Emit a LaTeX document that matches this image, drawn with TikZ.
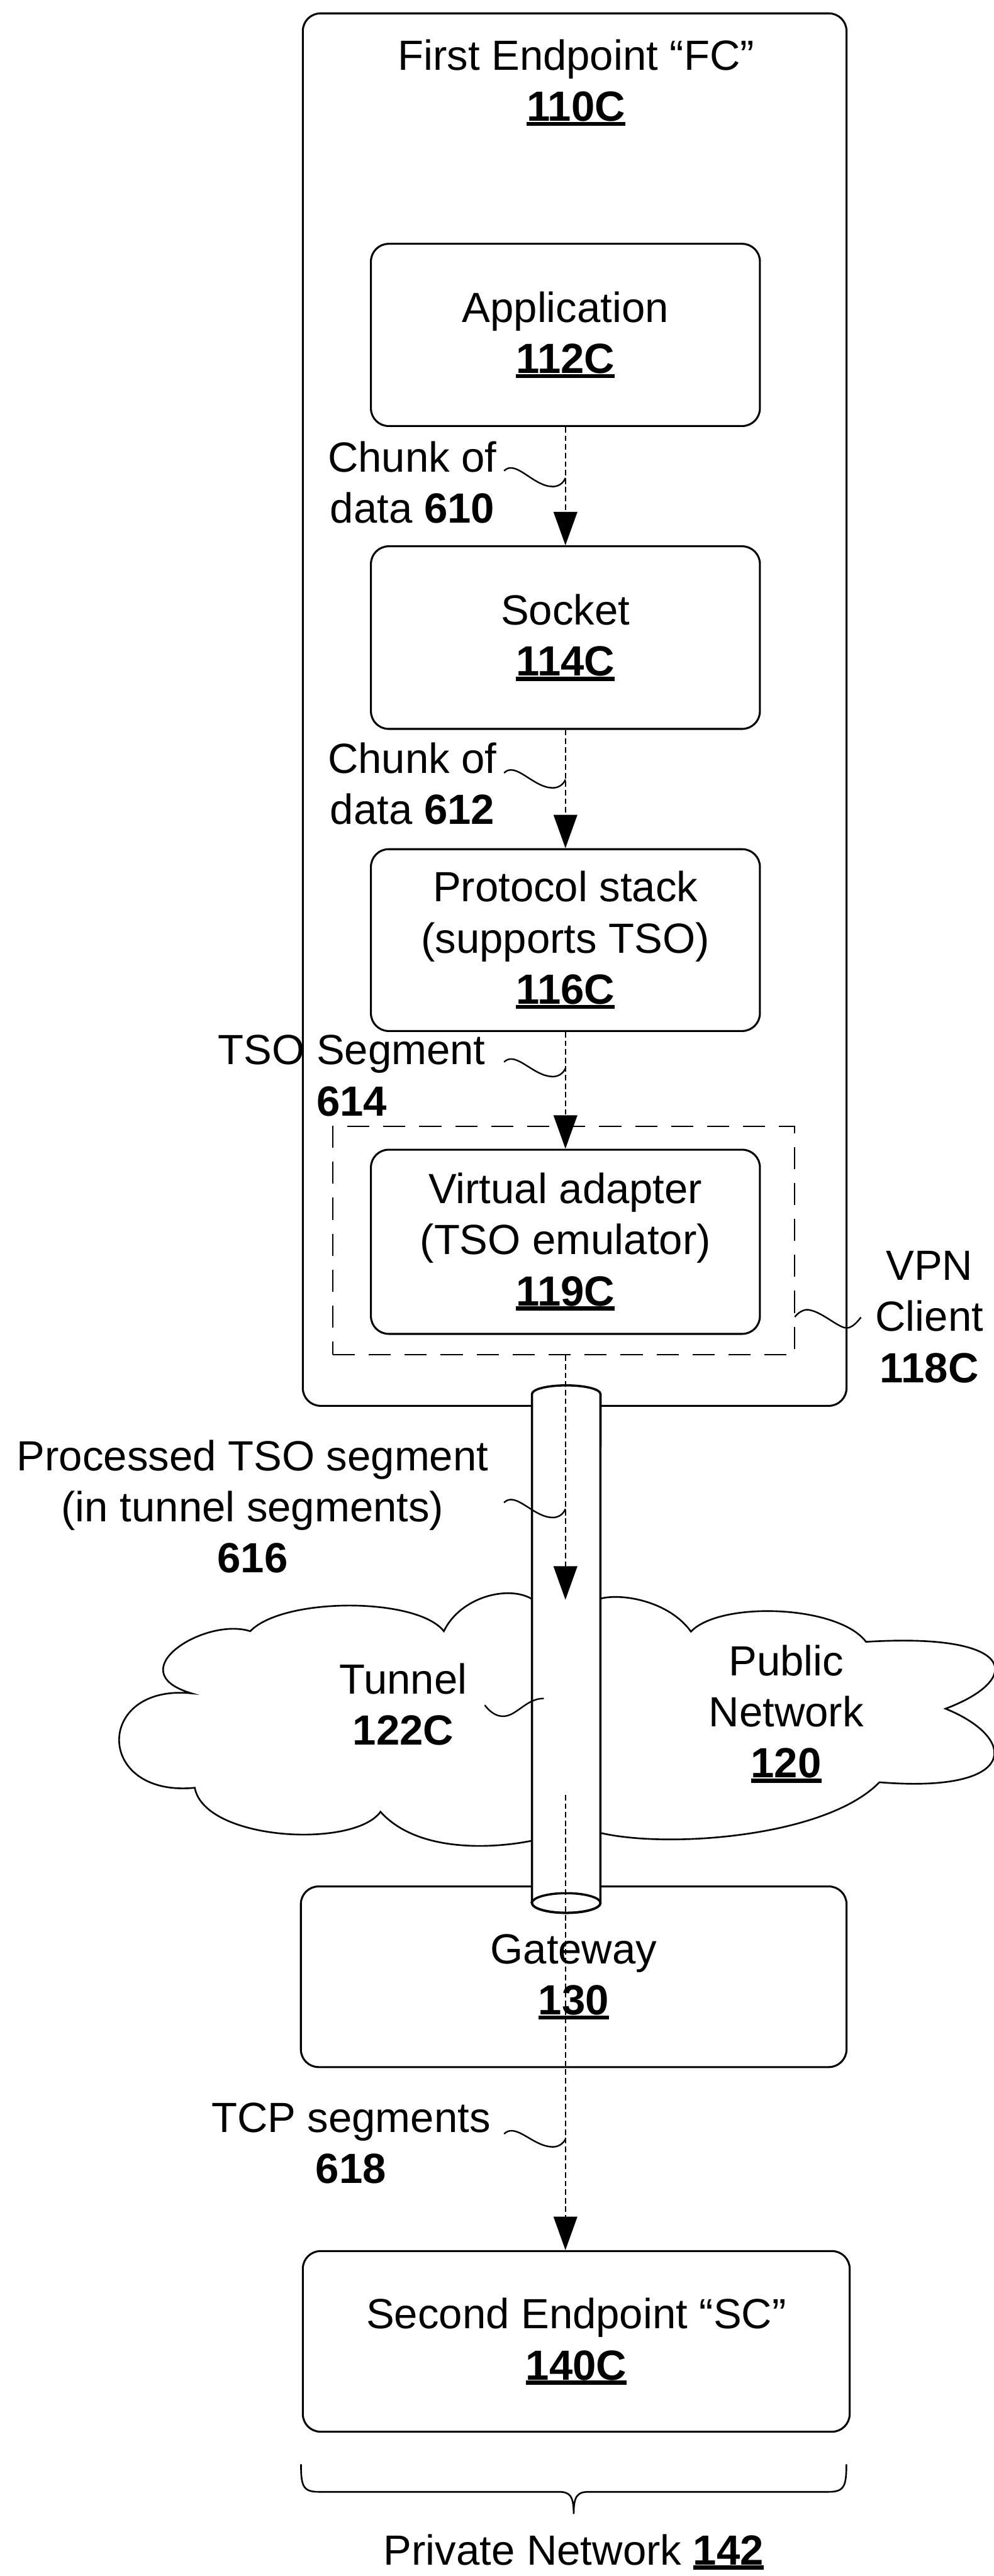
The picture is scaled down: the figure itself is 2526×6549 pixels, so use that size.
\documentclass[tikz,border=0pt]{standalone}
\usepackage{fontspec}
\setmainfont{Liberation Sans}
\usetikzlibrary{arrows.meta}

\newcommand{\figfont}{\fontsize{30.5}{37}\selectfont}
\newcommand{\refnum}[1]{\textbf{#1}}
\newsavebox{\refbox}
\newcommand{\urefnum}[1]{\sbox{\refbox}{\textbf{#1}}\rlap{\rule[-3.5pt]{\wd\refbox}{3pt}}\usebox{\refbox}}

\tikzset{
  box/.style={draw, line width=1.4pt, rounded corners=0.45cm, align=center,
    inner sep=0pt, font=\figfont},
  lbl/.style={align=center, inner sep=0pt, font=\figfont},
  flow/.style={line width=1.1pt, dash pattern=on 4pt off 2.2pt,
    -{Triangle[length=0.85cm, width=0.6cm]}},
  leader/.style={line width=1.1pt},
  vpnbox/.style={draw, line width=1.1pt, dash pattern=on 16pt off 10pt,
    inner sep=0pt},
}

\begin{document}
\begin{tikzpicture}[x=0.01cm, y=-0.01cm]
\path[use as bounding box, fill=white] (0,0) rectangle (2526,6549);

% first endpoint and its stack
\node[box, minimum width=13.81cm, minimum height=35.38cm] (fc) at (1460.5,1804) {};
\node[lbl] (fctitle) at (1464,210) {First Endpoint “FC”\\\urefnum{110C}};

\node[box, minimum width=9.88cm, minimum height=4.63cm] (app) at (1437,851.5)
  {Application\\\urefnum{112C}};
\node[box, minimum width=9.88cm, minimum height=4.64cm] (sock) at (1437,1621)
  {Socket\\\urefnum{114C}};
\node[box, minimum width=9.88cm, minimum height=4.62cm] (proto) at (1437,2390)
  {Protocol stack\\(supports TSO)\\\urefnum{116C}};
\node[vpnbox, minimum width=11.73cm, minimum height=5.80cm] (vpn) at (1432.5,3154) {};
\node[box, minimum width=9.88cm, minimum height=4.68cm] (vadapt) at (1437,3157)
  {Virtual adapter\\(TSO emulator)\\\urefnum{119C}};

% public network cloud
\path[draw, fill=white, line width=1.2pt]
  (1350,4064)
  .. controls (1290,4030) and (1170,4060) .. (1128,4147)
  .. controls (1060,4060) and (720,4060) .. (636,4147)
  .. controls (520,4110) and (300,4250) .. (487,4305)
  .. controls (240,4280) and (240,4570) .. (495,4545)
  .. controls (520,4680) and (900,4700) .. (967,4606)
  .. controls (1060,4710) and (1250,4700) .. (1350,4680)
  -- (1527,4660)
  .. controls (1700,4700) and (2100,4670) .. (2235,4531)
  .. controls (2590,4560) and (2590,4420) .. (2403,4344)
  .. controls (2600,4270) and (2590,4150) .. (2201,4174)
  .. controls (2130,4080) and (1830,4070) .. (1756,4148)
  .. controls (1700,4070) and (1580,4050) .. (1527,4064)
  -- cycle;

% gateway and second endpoint
\node[box, minimum width=13.86cm, minimum height=4.59cm] (gw) at (1458,5025.5)
  {Gateway\\\urefnum{130}};
\node[box, minimum width=13.89cm, minimum height=4.59cm] (sc) at (1464.5,5952.5)
  {Second Endpoint “SC”\\\urefnum{140C}};

% tunnel
\path[draw, fill=white, line width=1.6pt]
  (1352,4838) -- (1352,3544)
  arc[start angle=180, end angle=0, x radius=0.87cm, y radius=0.22cm]
  -- (1526,4838)
  arc[start angle=0, end angle=-180, x radius=0.87cm, y radius=0.25cm]
  -- cycle;
\draw[line width=1.6pt] (1439,4838) ellipse [x radius=0.87cm, y radius=0.25cm];

% labels
\node[lbl] (l610) at (1048,1226) {Chunk of\\data \refnum{610}};
\node[lbl] (l612) at (1048,1992) {Chunk of\\data \refnum{612}};
\node[lbl] (l614) at (894,2735) {TSO Segment\\\refnum{614}};
\node[lbl] (l118) at (2362,3348) {VPN\\Client\\\refnum{118C}};
\node[lbl] (l616) at (642,3830) {Processed TSO segment\\(in tunnel segments)\\\refnum{616}};
\node[lbl] (l122) at (1025,4333) {Tunnel\\\refnum{122C}};
\node[lbl] (l120) at (1998,4357) {Public\\Network\\\urefnum{120}};
\node[lbl] (l618) at (892,5449) {TCP segments\\\refnum{618}};
\node[lbl] (l142) at (1458,6488) {Private Network \urefnum{142}};

% data flow
\coordinate (tunend) at (1437,4067);
\coordinate (tunstart) at (1437,4563);
\draw[flow] (app.south) -- (sock.north);
\draw[flow] (sock.south) -- (proto.north);
\draw[flow] (proto.south) -- (vadapt.north);
\draw[flow] (vpn.south -| vadapt.south) -- (tunend);
\draw[flow] (tunstart) -- (tunstart |- sc.north);

% leader lines
\draw[leader] (1281,1197) .. controls (1311,1167) and (1355,1237) .. (1405,1237)
  .. controls (1420,1237) and (1432,1228) .. (1437,1215);
\draw[leader] (1281,1965) .. controls (1311,1935) and (1355,2003) .. (1405,2003)
  .. controls (1420,2003) and (1432,1994) .. (1437,1982);
\draw[leader] (1281,2700) .. controls (1311,2670) and (1355,2737) .. (1405,2737)
  .. controls (1420,2737) and (1432,2728) .. (1437,2716);
\draw[leader] (1281,3820) .. controls (1311,3790) and (1355,3858) .. (1405,3858)
  .. controls (1420,3858) and (1432,3849) .. (1437,3836);
\draw[leader] (1281,5425) .. controls (1311,5395) and (1355,5458) .. (1405,5458)
  .. controls (1420,5458) and (1432,5449) .. (1437,5438);
\draw[leader] (1232,4335) .. controls (1255,4365) and (1280,4370) .. (1305,4355)
  .. controls (1330,4340) and (1350,4318) .. (1382,4318);
\draw[leader] (2020,3348) .. controls (2030,3335) and (2045,3328) .. (2055,3330)
  .. controls (2090,3335) and (2130,3376) .. (2152,3376)
  .. controls (2165,3376) and (2178,3362) .. (2188,3349);

% private network brace
\draw[line width=1.2pt] (765,6265) .. controls (765,6320) and (770,6335) .. (810,6335)
  -- (1420,6335) .. controls (1448,6335) and (1458,6345) .. (1458,6391)
  .. controls (1458,6345) and (1468,6335) .. (1496,6335)
  -- (2106,6335) .. controls (2146,6335) and (2151,6320) .. (2151,6265);
\end{tikzpicture}
\end{document}
